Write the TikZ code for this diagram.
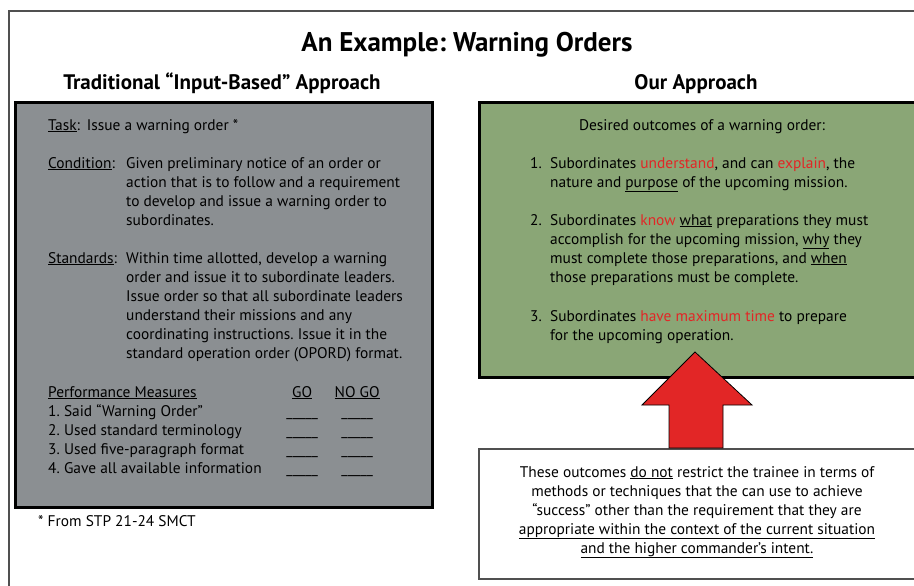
\documentclass[tikz,border=0pt]{standalone}
\usepackage{fontspec}
\setmainfont{PT Sans}
\usepackage{array}
\usetikzlibrary{positioning}
\frenchspacing
\definecolor{boxgray}{RGB}{139,143,146}
\definecolor{boxgreen}{RGB}{138,166,118}
\definecolor{hired}{RGB}{226,38,38}
\definecolor{framegray}{RGB}{80,80,80}
\tikzset{panel/.style = {draw, line width=3, anchor=north west, inner sep=0}}
\tikzset{body/.style = {font=\fontsize{15.4}{19}\selectfont, inner sep=0, anchor=base west}}
\tikzset{head/.style = {font=\fontsize{21}{24}\selectfont\bfseries, inner sep=0, anchor=base}}
\newcommand{\hot}[1]{\textcolor{hired}{#1}}
\newcommand{\blank}{\_\_\_\_\_}

\begin{document}
\begin{tikzpicture}[x=1pt, y=-1pt]
      \useasboundingbox (0,0) rectangle (914,586);
      \clip (0,0) rectangle (914,586);
      \draw [framegray, line width=1.5] (9,11) rectangle (940,610);
      \node [head, font=\fontsize{27}{30}\selectfont\bfseries] (title) at (467,52) {An Example: Warning Orders};
      \node [head] (lefthead) at (222,90) {Traditional “Input-Based” Approach};
      \node [head] (righthead) at (696,90) {Our Approach};
      % input-based box
      \node [panel, fill=boxgray, minimum width=417, minimum height=405] (inputbox) at (14,101) {};
      \node [body] (task) at (48,130) {\underline{Task}:\hspace{0.45em}Issue a warning order *};
      \node [body] (condition) at (48,168) {\begin{tabular}[t]{@{}p{78pt}@{}l@{}}
          \underline{Condition}: & Given preliminary notice of an order or\\
          & action that is to follow and a requirement\\
          & to develop and issue a warning order to\\
          & subordinates.
        \end{tabular}};
      \node [body] (standards) at (48,263) {\begin{tabular}[t]{@{}p{78pt}@{}l@{}}
          \underline{Standards}: & Within time allotted, develop a warning\\
          & order and issue it to subordinate leaders.\\
          & Issue order so that all subordinate leaders\\
          & understand their missions and any\\
          & coordinating instructions. Issue it in the\\
          & standard operation order (OPORD) format.
        \end{tabular}};
      \node [body] (measures) at (48,397) {\begin{tabular}[t]{@{}p{229pt}@{}>{\centering\arraybackslash}p{50pt}@{}>{\centering\arraybackslash}p{60pt}@{}}
          \underline{Performance Measures} & \underline{GO} & \underline{NO GO}\\
          1. Said “Warning Order” & \blank & \blank\\
          2. Used standard terminology & \blank & \blank\\
          3. Used five-paragraph format & \blank & \blank\\
          4. Gave all available information & \blank & \blank
        \end{tabular}};
      \node [body] (source) at (38,526) {* From STP 21-24 SMCT};
      % outcome box
      \node [panel, fill=boxgreen, minimum width=460, minimum height=275] (outcomebox) at (478,101) {};
      \node [body, anchor=base] (desired) at (702,130) {Desired outcomes of a warning order:};
      \node [body] (itemone) at (530,168) {\begin{tabular}[t]{@{}p{20pt}@{}l@{}}
          1. & Subordinates \hot{understand}, and can \hot{explain}, the\\
          & nature and \underline{purpose} of the upcoming mission.
        \end{tabular}};
      \node [body] (itemtwo) at (530,225) {\begin{tabular}[t]{@{}p{20pt}@{}l@{}}
          2. & Subordinates \hot{know} \underline{what} preparations they must\\
          & accomplish for the upcoming mission, \underline{why} they\\
          & must complete those preparations, and \underline{when}\\
          & those preparations must be complete.
        \end{tabular}};
      \node [body] (itemthree) at (530,321) {\begin{tabular}[t]{@{}p{20pt}@{}l@{}}
          3. & Subordinates \hot{have maximum time} to prepare\\
          & for the upcoming operation.
        \end{tabular}};
      % note box
      \node [panel, line width=1.5, draw=framegray, fill=white, minimum width=460, minimum height=130] (notebox) at (478,448) {};
      \node [body, anchor=base] (note) at (697,477) {\begin{tabular}[t]{@{}c@{}}
          These outcomes \underline{do not} restrict the trainee in terms of\\
          methods or techniques that the can use to achieve\\
          “success” other than the requirement that they are\\
          \underline{appropriate within the context of the current situation}\\
          \underline{and the higher commander’s intent.}
        \end{tabular}};
      % big arrow
      \coordinate (tip) at (695,352);
      \draw [fill=hired, line width=0.8] (notebox.north -| 669,0) -- (669,405) -- (642,405) -- (tip)
            -- (752,405) -- (723,405) -- (notebox.north -| 723,0) -- cycle;
\end{tikzpicture}
\end{document}
